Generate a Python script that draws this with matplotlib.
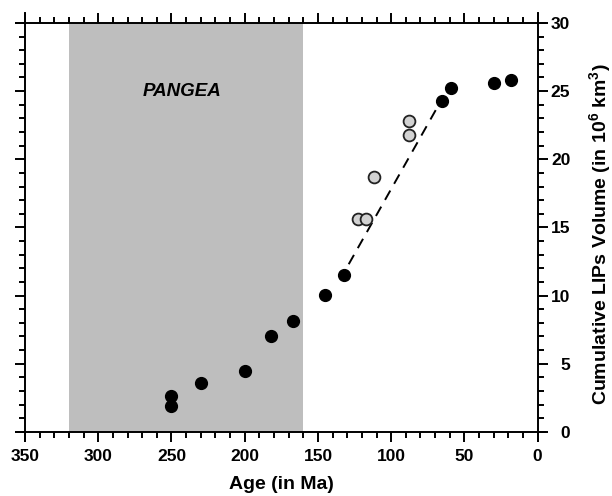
import matplotlib.pyplot as plt
from matplotlib.ticker import MultipleLocator

plt.rcParams["font.family"] = ["Liberation Sans", "DejaVu Sans"]
plt.rcParams["mathtext.fontset"] = "custom"
plt.rcParams["mathtext.bf"] = "Liberation Sans:bold"
plt.rcParams["mathtext.rm"] = "Liberation Sans:bold"
plt.rcParams["mathtext.default"] = "bf"

# filled dots: LIPs (age in Ma, cumulative volume in 10^6 km^3)
ages_solid = [250, 250, 230, 200, 182, 167, 145, 132, 65, 59, 30, 18]
vol_solid = [2.6, 1.9, 3.6, 4.5, 7.0, 8.1, 10.05, 11.5, 24.3, 25.25, 25.6, 25.8]

# open (grey) dots
ages_open = [123, 117, 111.5, 87.5, 87.5]
vol_open = [15.6, 15.65, 18.7, 21.8, 22.8]

# dashed trend
trend_age = [129, 67]
trend_vol = [12.3, 24.1]

pangea = (320, 160)
x_ticks = list(range(0, 351, 50))
y_ticks = list(range(0, 31, 5))

fig = plt.figure(figsize=(6.12, 4.96), dpi=100)
ax = fig.add_axes([0.0265, 0.110, 0.864, 0.863])

# shaded Pangea period, only between 0 and 30
ax.fill_betweenx([0, 30], pangea[0], pangea[1], color="#bebebe", lw=0, zorder=0)
ax.text(243, 25.0, "PANGEA", fontsize=13.5, fontweight="bold", style="italic",
        ha="center", va="center")

ax.plot(trend_age, trend_vol, color="black", lw=1.4, ls=(0, (5.5, 4)), zorder=2)
ax.plot(ages_solid, vol_solid, "o", ms=8.5, mfc="black", mec="black", zorder=3)
ax.plot(ages_open, vol_open, "o", ms=8.5, mfc="#d2d2d2", mec="#222222",
        mew=1.3, zorder=3)

ax.set_xlim(356, -5)
ax.set_ylim(-0.7, 30.7)

# spines crossing at the corners
ax.spines["left"].set_position(("data", 350))
ax.spines["right"].set_position(("data", 0))
ax.spines["bottom"].set_position(("data", 0))
ax.spines["top"].set_position(("data", 30))
for s in ax.spines.values():
    s.set_linewidth(1.4)

ax.xaxis.set_minor_locator(MultipleLocator(10))
ax.yaxis.set_minor_locator(MultipleLocator(1))

ax.tick_params(which="both", direction="out", width=1.4, top=True, bottom=True,
               left=True, right=True, labelleft=False, labelright=True,
               labeltop=False, labelbottom=True)
ax.tick_params(which="major", length=7.5, labelsize=12.5)
ax.tick_params(which="minor", length=4)
ax.tick_params(axis="x", which="major", pad=5)
ax.tick_params(axis="y", which="major", pad=16)

ax.set_xticks(x_ticks)
ax.set_xticklabels([str(v) for v in x_ticks], fontweight="bold")
ax.set_yticks(y_ticks)
ax.set_yticklabels([str(v) for v in y_ticks], fontweight="bold", ha="right")

ax.set_xlabel("Age (in Ma)", fontsize=14, fontweight="bold", va="center")
ax.xaxis.set_label_coords(0.5008, -0.1016)
ax.yaxis.set_label_position("right")
ax.set_ylabel("Cumulative LIPs Volume (in 10$^{6}$ km$^{3}$)", fontsize=14,
              fontweight="bold", va="center", rotation=90)
ax.yaxis.set_label_coords(1.104, 0.485)

fig.savefig("out.png", dpi=100)
